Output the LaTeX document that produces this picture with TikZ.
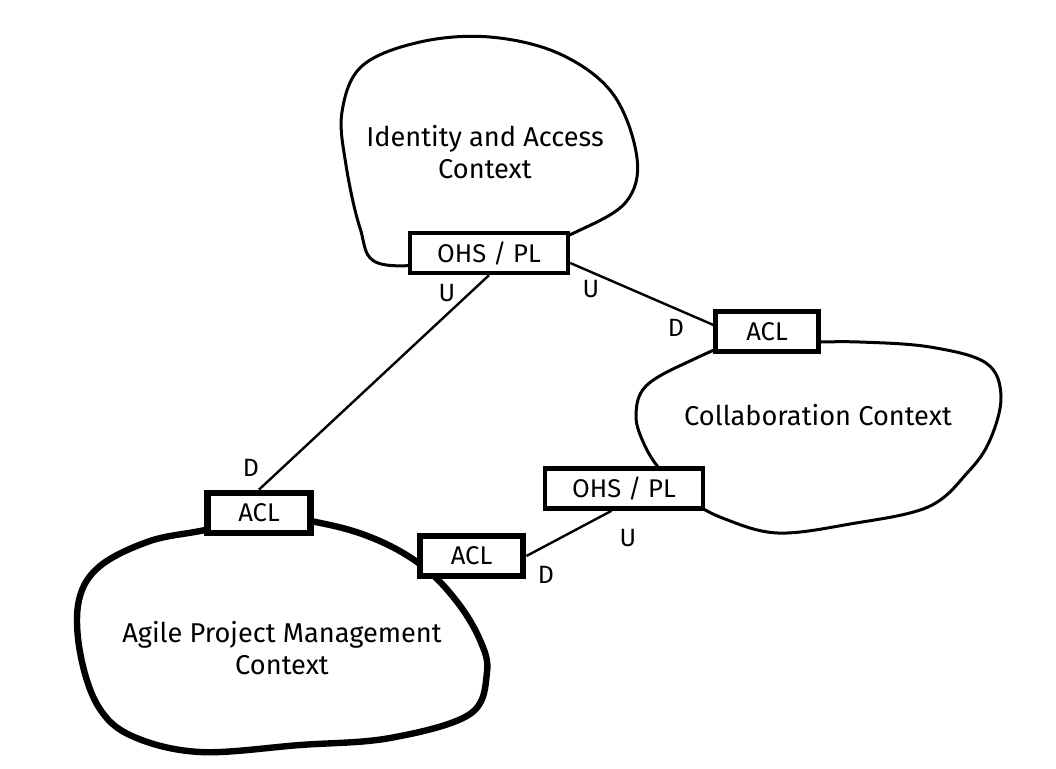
\documentclass[tikz,border=0pt]{standalone}
\usepackage{fontspec}
\setmainfont{Fira Sans}
\usetikzlibrary{positioning}

\begin{document}
\begin{tikzpicture}[
    x=0.5pt, y=-0.5pt,
    context/.style={draw=black, line width=1.5pt},
    core/.style={draw=black, line width=3.2pt},
    mapbox/.style={rectangle, draw=black, fill=white, line width=2.2pt, minimum height=20pt, inner sep=0pt, font=\fontsize{12.8}{14}\selectfont},
    corebox/.style={mapbox, line width=3.4pt},
    ohs/.style={minimum width=79pt},
    acl/.style={minimum width=51.5pt},
    label/.style={align=center, font=\fontsize{13.6}{16}\selectfont},
    side/.style={font=\fontsize{12.5}{14}\selectfont},
    line/.style={draw, line width=1.2pt}
]
\useasboundingbox (0,0) rectangle (1056,768);

% Bounded contexts
\draw[context] plot[smooth cycle, tension=0.6] coordinates {
    (450,262) (378,263) (360,228) (346,165) (342,112) (362,66) (420,42)
    (490,37) (560,54) (613,94) (637,158) (626,202) (578,231) (530,248)};
\draw[context] plot[smooth cycle, tension=0.6] coordinates {
    (745,340) (690,361) (646,386) (636,416) (645,446) (662,472) (690,500)
    (725,519) (778,533) (850,524) (928,507) (968,472) (990,440) (1001,396)
    (986,363) (930,347) (860,342) (800,342)};
\draw[core] plot[smooth cycle, tension=0.6] coordinates {
    (262,516) (330,525) (382,542) (425,568) (458,603) (480,640)
    (487,672) (470,714) (390,738) (300,745) (200,752) (132,736) (98,706)
    (80,652) (79,600) (100,566) (150,541) (205,530)};

\node[label] (iac) at (485,152) {Identity and Access\\Context};
\node[label] (cc) at (818,415) {Collaboration Context};
\node[label] (apm) at (282,648) {Agile Project Management\\Context};

% Context map boxes
\node[mapbox, ohs] (ohsA) at (489,253) {OHS / PL};
\node[mapbox, acl] (aclC) at (767,331.5) {ACL};
\node[mapbox, ohs] (ohsC) at (624,488.5) {OHS / PL};
\node[corebox, acl] (aclA) at (259,513) {ACL};
\node[corebox, acl] (aclB) at (471.5,556) {ACL};

% Relationships
\path[line] (ohsA.south) -- (aclA.north);
\path[line] (ohsA.-7) -- (aclC.173);
\path[line] (ohsC.241) -- (aclB.east);

\node[side] (uA) at (447,293) {U};
\node[side] (dA) at (251,468) {D};
\node[side] (uB) at (591,289) {U};
\node[side] (dB) at (676,328) {D};
\node[side] (uC) at (628,538) {U};
\node[side] (dC) at (546,575) {D};
\end{tikzpicture}
\end{document}
